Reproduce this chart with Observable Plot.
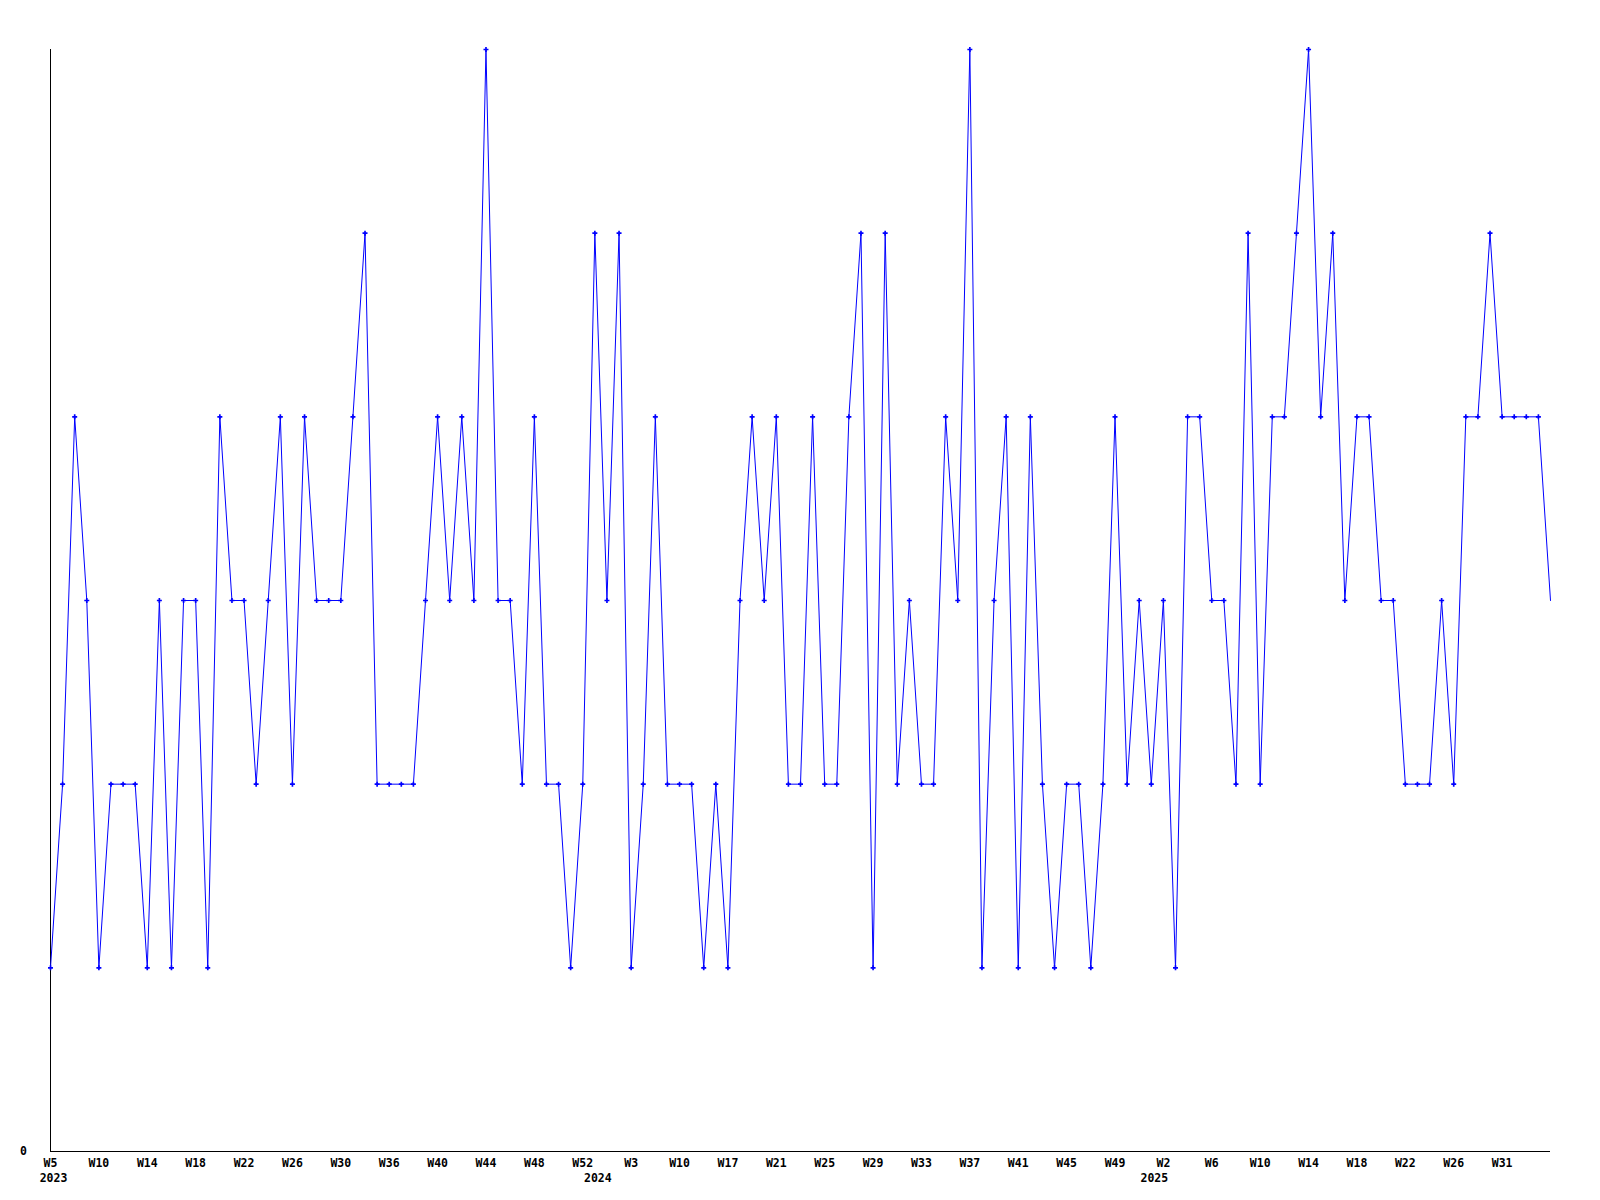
<!DOCTYPE html>
<html>
<head>
<meta charset="utf-8">
<script src="https://cdn.jsdelivr.net/npm/d3@7"></script>
<script src="https://cdn.jsdelivr.net/npm/@observablehq/plot@0.6"></script>
<style>
  html, body { margin: 0; padding: 0; background: #fff; }
  #chart svg { display: block; }
</style>
</head>
<body>
<div id="chart"></div>
<script>
// Weekly values, one per point (index 0 = 2023 W5)
const values = [
  1,2,4,3,1,2,2,2,1,3,1,3,3,1,4,3,3,2,3,4,2,4,
  3,3,3,4,5,2,2,2,2,3,4,3,4,3,6,3,3,2,4,2,2,1,
  2,5,3,5,1,2,4,2,2,2,1,2,1,3,4,3,4,2,2,4,2,
  2,4,5,1,5,2,3,2,2,4,3,6,1,3,4,1,4,2,1,2,2,1,
  2,4,2,3,2,3,1,4,4,3,3,2,5,2,4,4,5,6,4,5,3,
  4,4,3,3,2,2,2,3,2,4,4,5,4,4,4,4,3
];
// Tick labels, one every 4 points
const tickLabels = [
  "W5","W10","W14","W18","W22","W26","W30","W36","W40","W44","W48","W52",
  "W3","W10","W17","W21","W25","W29","W33","W37","W41","W45","W49",
  "W2","W6","W10","W14","W18","W22","W26","W31"
];
const tickStep = 4;
// Year labels and the point index where each year starts
const yearLabels = ["2023", "2024", "2025"];
const yearStarts = [0, 45, 91];

const data = values.map((v, i) => ({i, v}));
const ticks = tickLabels.map((t, k) => ({i: k * tickStep, t}));
const years = yearLabels.map((y, k) => ({i: yearStarts[k], t: y}));
const font = "'DejaVu Sans Mono', monospace";

const chart = Plot.plot({
  width: 1600,
  height: 1200,
  marginLeft: 50,
  marginRight: 50,
  marginTop: 49,
  marginBottom: 49,
  style: {background: "#fff", fontFamily: font},
  x: {type: "linear", domain: [0, values.length - 1], axis: null},
  y: {type: "linear", domain: [0, 6], axis: null},
  marks: [
    Plot.ruleX([0], {stroke: "black", strokeWidth: 1}),
    Plot.ruleY([0], {stroke: "black", strokeWidth: 1}),
    Plot.line(data, {x: "i", y: "v", stroke: "#0000ff", strokeWidth: 1}),
    Plot.dot(data.slice(0, -1), {x: "i", y: "v", symbol: "cross", r: 2.1, fill: "#0000ff", stroke: "none"}),
    Plot.text(ticks, {x: "i", y: 0, text: "t", dy: 11.5, fontSize: 11.5, fontWeight: "bold", fill: "black", fontFamily: font}),
    Plot.text(years, {x: "i", y: 0, text: "t", dy: 26.5, dx: 3, fontSize: 11.5, fontWeight: "bold", fill: "black", fontFamily: font}),
    Plot.text([0], {x: 0, y: 0, text: d => String(d), dx: -27, fontSize: 11.5, fontWeight: "bold", fill: "black", fontFamily: font})
  ]
});
document.getElementById("chart").appendChild(chart);
</script>
</body>
</html>
